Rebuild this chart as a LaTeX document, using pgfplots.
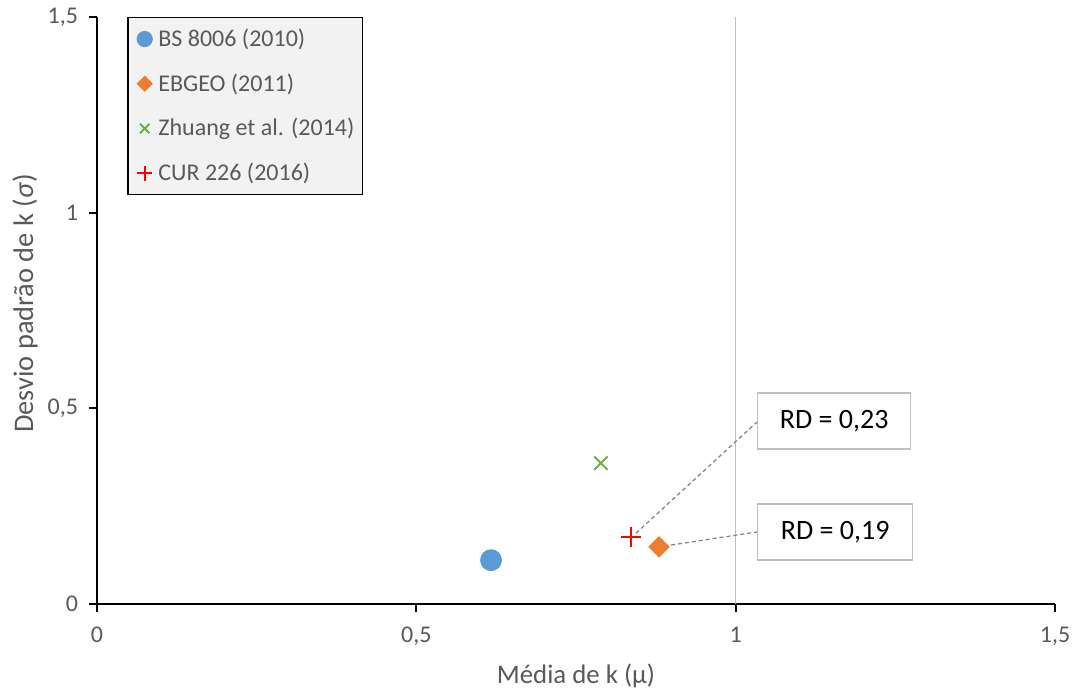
\documentclass[border=0pt]{standalone}
\usepackage{pgfplots}
\pgfplotsset{compat=1.18}
\usepackage{fontspec}
\setmainfont{Carlito}
\definecolor{cblue}{HTML}{5B9BD5}
\definecolor{corange}{HTML}{ED7D31}
\definecolor{cgreen}{HTML}{70AD47}
\definecolor{cred}{HTML}{FF0000}
\definecolor{txtgray}{HTML}{595959}
\definecolor{lgray}{HTML}{BFBFBF}
\definecolor{dgray}{HTML}{808080}
\begin{document}
\begin{tikzpicture}
\useasboundingbox (-48.5pt,-42.5pt) rectangle (488pt,302pt);
\begin{axis}[
  at={(0,0)}, anchor=south west,
  scale only axis, width=479pt, height=293.5pt,
  xmin=0, xmax=1.5, ymin=0, ymax=1.5,
  axis x line=bottom, axis y line=left,
  axis line style={-, line width=1pt, black},
  xtick={0,0.5,1,1.5}, ytick={0,0.5,1,1.5},
  xticklabels={0,{0,5},1,{1,5}},
  yticklabels={0,{0,5},1,{1,5}},
  tick align=outside, major tick length=4pt,
  tick style={black, line width=1pt},
  ticklabel style={font=\fontsize{12}{14}\selectfont, text=txtgray},
  xticklabel style={yshift=-4pt},
  yticklabel style={xshift=-2pt},
  xlabel={Média de k (μ)},
  ylabel={Desvio padrão de k (\textit{σ})},
  x label style={font=\fontsize{13.4}{16}\selectfont, text=txtgray, at={(axis description cs:0.5,-0.1227)}, anchor=center},
  y label style={font=\fontsize{14.2}{16}\selectfont, text=txtgray, at={(axis description cs:-0.0752,0.512)}, anchor=center},
  clip=false,
  legend style={at={(axis cs:0.047,1.5)}, anchor=north west,
    fill=black!5, draw=black, line width=0.75pt,
    font=\fontsize{12}{14}\selectfont, text=txtgray,
    row sep=8.1pt, inner xsep=2pt, inner ysep=3.5pt},
  legend cell align=left,
  legend image code/.code={\path[draw=none] (0,0) -- (0.31cm+2.5pt,0); \draw plot coordinates {(0.14cm+2.5pt,0cm)};},
  legend image post style={every mark/.append style={scale=0.7}},
]
\addplot[forget plot, lgray, line width=0.5pt] coordinates {(1,0) (1,1.5)};
\addplot[only marks, mark=*, mark size=5.25pt, mark options={draw=cblue, fill=cblue}] coordinates {(0.617,0.112)};
\addlegendentry{BS 8006 (2010)}
\addplot[only marks, mark=square*, mark size=3.6pt, mark options={draw=corange, fill=corange, rotate=45}] coordinates {(0.880,0.146)};
\addlegendentry{EBGEO (2011)}
\addplot[only marks, mark=x, mark size=4.75pt, mark options={draw=cgreen, line width=1pt}] coordinates {(0.789,0.360)};
\addlegendentry{Zhuang et al. (2014)}
\addplot[only marks, mark=+, mark size=5.2pt, mark options={draw=cred, line width=1pt}] coordinates {(0.836,0.171)};
\addlegendentry{CUR 226 (2016)}
\draw[dgray, line width=0.6pt, dash pattern=on 2pt off 1.5pt] (axis cs:0.844,0.181) -- (axis cs:1.0334,0.465);
\draw[dgray, line width=0.6pt, dash pattern=on 2pt off 1.5pt] (axis cs:0.888,0.148) -- (axis cs:1.0334,0.184);
\node[draw=lgray, line width=0.75pt, fill=white, anchor=west, minimum width=76.5pt, minimum height=28pt, font=\fontsize{14}{16}\selectfont] at (axis cs:1.0334,0.4677) {RD = 0,23};
\node[draw=lgray, line width=0.75pt, fill=white, anchor=west, minimum width=77.5pt, minimum height=28pt, font=\fontsize{14}{16}\selectfont] at (axis cs:1.0334,0.184) {RD = 0,19};
\end{axis}
\end{tikzpicture}
\end{document}
